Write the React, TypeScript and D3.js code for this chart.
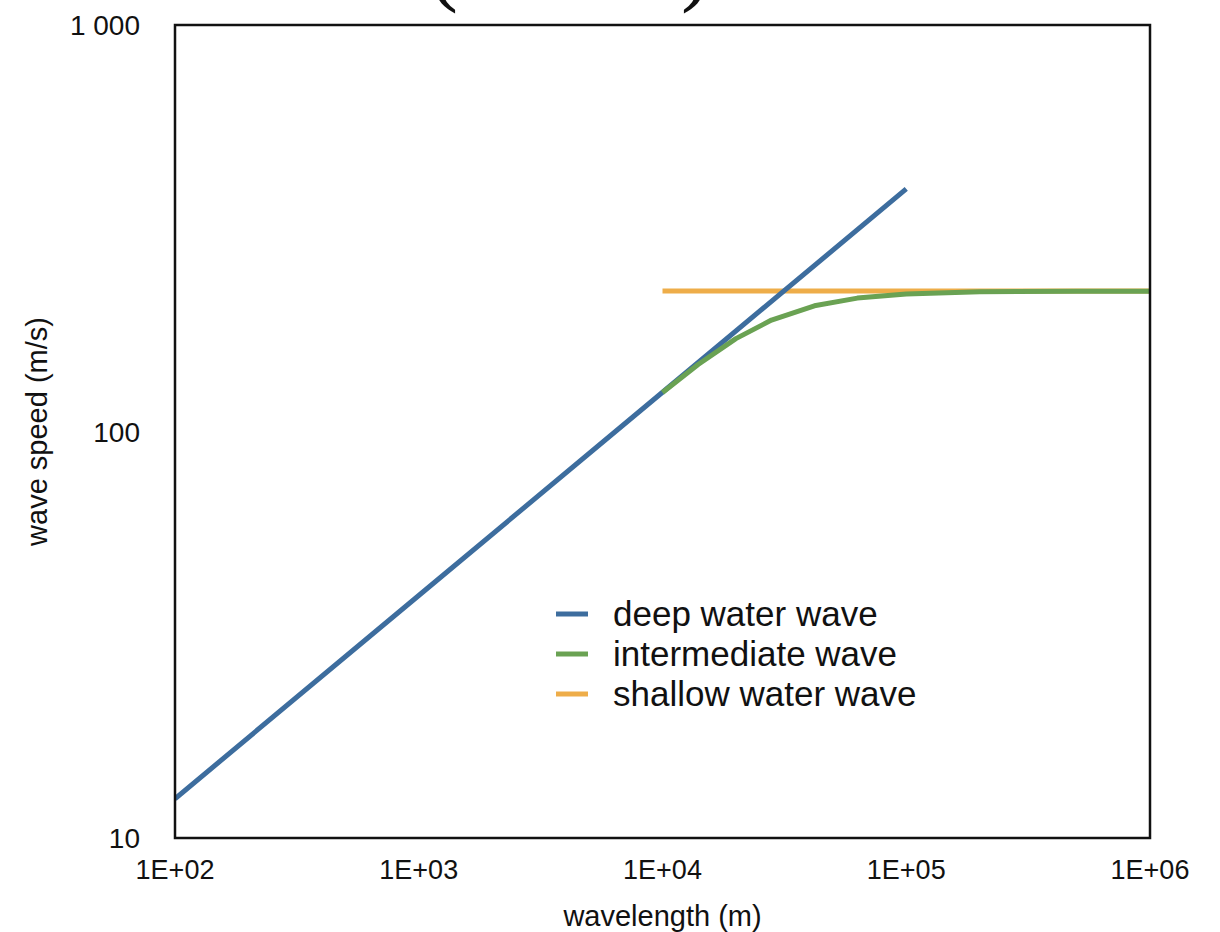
import React from 'react';
import * as d3 from 'd3';

const W = 1220;
const H = 932;
const MARGIN = { top: 25, right: 70, bottom: 94, left: 175 };

// wavelength (m) / wave speed (m/s)
const deepX = [100, 1000, 10000, 100000];
const deepY = [12.49, 39.5, 124.9, 395.1];

const interX = [10000, 14000, 20000, 28000, 42000, 63000, 100000, 200000, 500000, 1000000];
const interY = [124.7, 146.2, 169.2, 188.0, 203.8, 212.9, 217.9, 220.6, 221.3, 221.4];

const shallowX = [10000, 1000000];
const shallowY = [221.5, 221.5];

const xTicks = [100, 1000, 10000, 100000, 1000000];
const xTickLabels = ['1E+02', '1E+03', '1E+04', '1E+05', '1E+06'];
const yTicks = [10, 100, 1000];
const yTickLabels = ['10', '100', '1 000'];

const series = [
  { name: 'deep water wave', xs: deepX, ys: deepY, color: '#3d6d9e' },
  { name: 'intermediate wave', xs: interX, ys: interY, color: '#6aa253' },
  { name: 'shallow water wave', xs: shallowX, ys: shallowY, color: '#eead49' },
];

const FONT = '"Liberation Sans", Arial, Helvetica, sans-serif';

export default function App() {
  const w = W - MARGIN.left - MARGIN.right;
  const h = H - MARGIN.top - MARGIN.bottom;
  const x = d3.scaleLog().domain([100, 1000000]).range([0, w]);
  const y = d3.scaleLog().domain([10, 1000]).range([h, 0]);

  const line = d3.line<[number, number]>()
    .x(d => x(d[0]))
    .y(d => y(d[1]));

  // draw order: shallow under, then deep, then intermediate on top
  const order = [series[2], series[0], series[1]];

  return (
    <svg width={W} height={H} style={{ position: 'absolute', left: 0, top: 0, background: '#fff' }}>
      {/* cut-off formula at the top */}
      <text x={428} y={-6} fontFamily='"Liberation Serif", serif' fontSize={90} fill="#111">(</text>
      <text x={681} y={-6} fontFamily='"Liberation Serif", serif' fontSize={90} fill="#111">)</text>

      <g transform={`translate(${MARGIN.left},${MARGIN.top})`}>
        <defs>
          <clipPath id="plot-clip">
            <rect x={0} y={0} width={w} height={h} />
          </clipPath>
        </defs>
        <g clipPath="url(#plot-clip)">
          {order.map(s => (
            <path
              key={s.name}
              d={line(s.xs.map((v, i) => [v, s.ys[i]] as [number, number])) || ''}
              fill="none"
              stroke={s.color}
              strokeWidth={5}
              strokeLinejoin="round"
            />
          ))}
        </g>
        <rect x={0} y={0} width={w} height={h} fill="none" stroke="#111" strokeWidth={2.5} />

        {xTicks.map((t, i) => (
          <text key={t} x={x(t)} y={h + 41} textAnchor="middle" fontFamily={FONT} fontSize={27} fill="#111">
            {xTickLabels[i]}
          </text>
        ))}
        {yTicks.map((t, i) => (
          <text key={t} x={-35} y={y(t) + 10} textAnchor="end" fontFamily={FONT} fontSize={28} fill="#111">
            {yTickLabels[i]}
          </text>
        ))}

        <text x={w / 2} y={h + 88} textAnchor="middle" fontFamily={FONT} fontSize={29} fill="#111">
          wavelength (m)
        </text>
        <text
          transform={`translate(${-128},${h / 2}) rotate(-90)`}
          textAnchor="middle"
          fontFamily={FONT}
          fontSize={29}
          fill="#111"
        >
          wave speed (m/s)
        </text>

        <g transform={`translate(${556 - MARGIN.left},${614 - MARGIN.top})`}>
          {series.map((s, i) => (
            <g key={s.name} transform={`translate(0,${i * 40})`}>
              <line x1={0} x2={32} y1={0} y2={0} stroke={s.color} strokeWidth={5} />
              <text x={57} y={12} fontFamily={FONT} fontSize={35} fill="#111">{s.name}</text>
            </g>
          ))}
        </g>
      </g>
    </svg>
  );
}
